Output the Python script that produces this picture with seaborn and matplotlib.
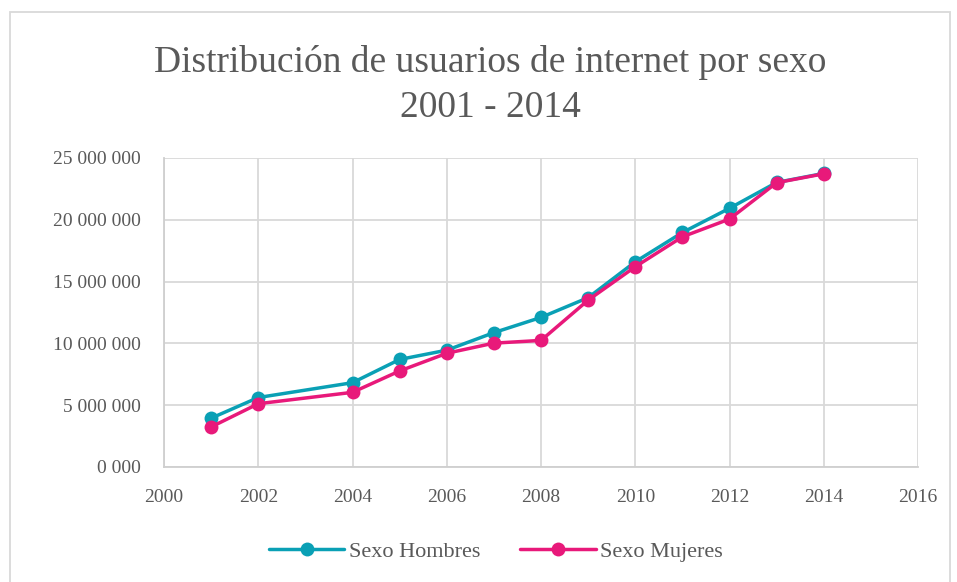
import pandas as pd
import seaborn as sns
import matplotlib.pyplot as plt
from matplotlib.ticker import FuncFormatter, MultipleLocator
from matplotlib.patches import Rectangle

# data
years = [2001, 2002, 2004, 2005, 2006, 2007, 2008, 2009, 2010, 2011, 2012, 2013, 2014]
hombres = [3.95e6, 5.62e6, 6.82e6, 8.70e6, 9.45e6, 10.87e6, 12.1e6, 13.7e6, 16.6e6, 18.97e6, 20.93e6, 23.02e6, 23.75e6]
mujeres = [3.24e6, 5.12e6, 6.04e6, 7.77e6, 9.20e6, 10.02e6, 10.24e6, 13.5e6, 16.2e6, 18.62e6, 20.06e6, 23.0e6, 23.72e6]
series = ["Sexo Hombres", "Sexo Mujeres"]
colors = {"Sexo Hombres": "#0aa0b5", "Sexo Mujeres": "#e8197a"}

df = pd.DataFrame({
    "year": years * 2,
    "usuarios": hombres + mujeres,
    "serie": [series[0]] * len(years) + [series[1]] * len(years),
})

sns.set_style("white")
plt.rcParams['font.family'] = ['Liberation Serif', 'DejaVu Serif']

fig = plt.figure(figsize=(9.57, 5.82), dpi=100)
ax = fig.add_axes([0.1714, 0.1976, 0.7879, 0.531])

sns.lineplot(data=df, x="year", y="usuarios", hue="serie", palette=colors,
             marker="o", markersize=10, markeredgewidth=0, linewidth=2.5, ax=ax)

ax.set_xlim(2000, 2016)
ax.set_ylim(0, 25e6)
ax.xaxis.set_major_locator(MultipleLocator(2))
ax.yaxis.set_major_locator(MultipleLocator(5e6))
ax.yaxis.set_major_formatter(FuncFormatter(lambda v, p: "{:,} 000".format(int(v / 1000)).replace(",", " ")))
ax.grid(True, color="#d9d9d9", linewidth=1.3)
ax.set_xlabel("")
ax.set_ylabel("")
for s in ["top", "right"]:
    ax.spines[s].set_visible(False)
for s in ["left", "bottom"]:
    ax.spines[s].set_color("#cfcfcf")
    ax.spines[s].set_linewidth(1.3)
ax.tick_params(axis="y", labelsize=14, colors="#595959", length=4, width=1, pad=13)
ax.tick_params(axis="x", labelsize=14, colors="#595959", length=0, pad=16)
for t in ax.get_yticklabels() + ax.get_xticklabels():
    t.set_color("#595959")

leg = ax.legend(loc="upper center", bbox_to_anchor=(0.44, -0.175), ncol=2, frameon=False,
                fontsize=16, handlelength=3.4, columnspacing=1.8, handletextpad=0.2)
for t in leg.get_texts():
    t.set_color("#595959")

fig.text(0.512, 0.893, "Distribución de usuarios de internet por sexo", ha="center", va="center",
         fontsize=27, color="#595959")
fig.text(0.512, 0.815, "2001 - 2014", ha="center", va="center", fontsize=27, color="#595959")

fig.patches.append(Rectangle((0.01, -0.02), 0.983, 1.0, transform=fig.transFigure,
                             fill=False, edgecolor="#d9d9d9", linewidth=1.3))

fig.savefig("out.png", dpi=100)
